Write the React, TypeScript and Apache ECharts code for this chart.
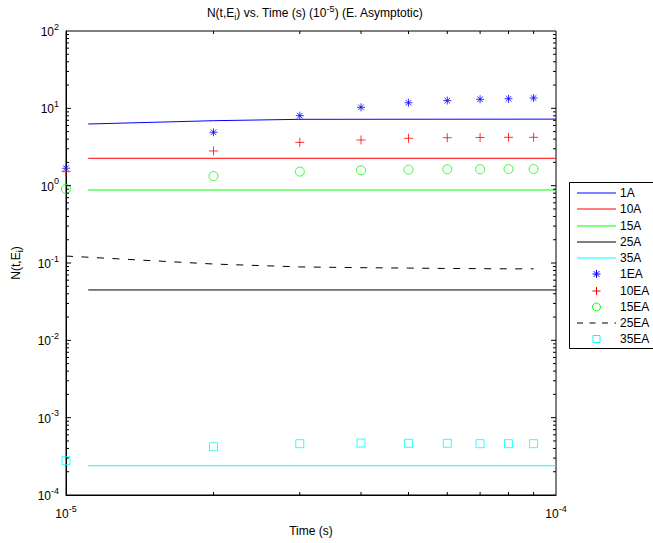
import React, { useEffect, useRef } from 'react';
import * as echarts from 'echarts';

// Sample times (s) for the asymptotic points
const times = [1e-5, 2e-5, 3e-5, 4e-5, 5e-5, 6e-5, 7e-5, 8e-5, 9e-5];

// Model curves (solid lines)
const modelTimes1A = [1.11e-5, 2e-5, 3e-5, 1e-4];
const model1A = [6.27, 6.92, 7.21, 7.25];
const modelSpan = [1.11e-5, 1e-4];
const model10A = [2.26, 2.26];
const model15A = [0.879, 0.879];
const model25A = [0.0448, 0.0448];
const model35A = [2.39e-4, 2.39e-4];

// Asymptotic estimates
const asym1EA = [1.68, 4.9, 8.04, 10.3, 11.8, 12.6, 13.1, 13.3, 13.6];
const asym10EA = [1.52, 2.81, 3.63, 3.9, 4.1, 4.17, 4.2, 4.22, 4.22];
const asym15EA = [0.905, 1.33, 1.52, 1.58, 1.61, 1.63, 1.63, 1.64, 1.64];
const asym25EA = [0.123, 0.097, 0.089, 0.087, 0.086, 0.085, 0.0845, 0.084, 0.084];
const asym35EA = [2.78e-4, 4.21e-4, 4.61e-4, 4.7e-4, 4.66e-4, 4.66e-4, 4.61e-4, 4.61e-4, 4.61e-4];

// Axis decades and minor tick multipliers
const xDecades = [-5];
const yDecades = [-4, -3, -2, -1, 0, 1];
const minorSteps = [2, 3, 4, 5, 6, 7, 8, 9];

const X_MIN = 1e-5;
const X_MAX = 1e-4;
const Y_MIN = 1e-4;
const Y_MAX = 1e2;

const FONT = '"Liberation Sans", Arial, Helvetica, sans-serif';

const BLUE = '#0000ff';
const RED = '#ff0000';
const GREEN = '#00ff00';
const BLACK = '#000000';
const CYAN = '#00ffff';

const ASTERISK = 'path://M0,5L10,5M5,0L5,10M1.5,1.5L8.5,8.5M8.5,1.5L1.5,8.5';
const PLUS = 'path://M0,5L10,5M5,0L5,10';

const pairs = (xs: number[], ys: number[]) => xs.map((x, i) => [x, ys[i]]);

const powRich = {
  b: { fontSize: 12, fontFamily: FONT, color: '#000', lineHeight: 14, verticalAlign: 'bottom' },
  e: { fontSize: 9, fontFamily: FONT, color: '#000', lineHeight: 10, verticalAlign: 'bottom', padding: [0, 0, 7, 0] },
};

const powLabel = (v: number) => `{b|10}{e|${Math.round(Math.log10(v))}}`;

function tickSeries(data: number[][], dx: number, dy: number) {
  return {
    type: 'custom',
    silent: true,
    clip: false,
    z: 10,
    data,
    renderItem: (_params: any, api: any) => {
      const p = api.coord([api.value(0), api.value(1)]);
      const len = api.value(2) ? 5 : 3;
      return {
        type: 'line',
        shape: { x1: p[0], y1: p[1], x2: p[0] + dx * len, y2: p[1] + dy * len },
        style: { stroke: '#000', lineWidth: 1 },
      };
    },
  };
}

type LegendEntry = { name: string; color: string; kind: 'line' | 'dash' | 'star' | 'plus' | 'circle' | 'square' };
const legendEntries: LegendEntry[] = [
  { name: '1A', color: BLUE, kind: 'line' },
  { name: '10A', color: RED, kind: 'line' },
  { name: '15A', color: GREEN, kind: 'line' },
  { name: '25A', color: BLACK, kind: 'line' },
  { name: '35A', color: CYAN, kind: 'line' },
  { name: '1EA', color: BLUE, kind: 'star' },
  { name: '10EA', color: RED, kind: 'plus' },
  { name: '15EA', color: GREEN, kind: 'circle' },
  { name: '25EA', color: BLACK, kind: 'dash' },
  { name: '35EA', color: CYAN, kind: 'square' },
];

function legendGraphic() {
  const x0 = 569;
  const y0 = 182;
  const rowH = 16.25;
  const firstY = 11;
  const children: any[] = [
    { type: 'rect', shape: { x: 0.5, y: 0.5, width: 120, height: 166 }, style: { fill: '#fff', stroke: '#000', lineWidth: 1 } },
  ];
  legendEntries.forEach((e, i) => {
    const cy = Math.round(firstY + i * rowH);
    const cx = 27.5;
    const s = 4;
    if (e.kind === 'line' || e.kind === 'dash') {
      children.push({
        type: 'line',
        shape: { x1: 8, y1: cy, x2: 47, y2: cy },
        style: { stroke: e.color, lineWidth: 1.2, lineDash: e.kind === 'dash' ? [6, 6.5] : null },
      });
    } else if (e.kind === 'star') {
      const d = s * 0.72;
      children.push(
        { type: 'line', shape: { x1: cx - s, y1: cy, x2: cx + s, y2: cy }, style: { stroke: e.color, lineWidth: 1 } },
        { type: 'line', shape: { x1: cx, y1: cy - s, x2: cx, y2: cy + s }, style: { stroke: e.color, lineWidth: 1 } },
        { type: 'line', shape: { x1: cx - d, y1: cy - d, x2: cx + d, y2: cy + d }, style: { stroke: e.color, lineWidth: 1 } },
        { type: 'line', shape: { x1: cx - d, y1: cy + d, x2: cx + d, y2: cy - d }, style: { stroke: e.color, lineWidth: 1 } },
      );
    } else if (e.kind === 'plus') {
      children.push(
        { type: 'line', shape: { x1: cx - s, y1: cy, x2: cx + s, y2: cy }, style: { stroke: e.color, lineWidth: 1 } },
        { type: 'line', shape: { x1: cx, y1: cy - s, x2: cx, y2: cy + s }, style: { stroke: e.color, lineWidth: 1 } },
      );
    } else if (e.kind === 'circle') {
      children.push({ type: 'circle', shape: { cx, cy, r: s }, style: { fill: 'none', stroke: e.color, lineWidth: 1 } });
    } else {
      children.push({ type: 'rect', shape: { x: cx - 3.5, y: cy - 3.5, width: 7, height: 7 }, style: { fill: 'none', stroke: e.color, lineWidth: 1 } });
    }
    children.push({
      type: 'text',
      x: 51,
      y: cy,
      style: { text: e.name, fill: '#000', font: `12px ${FONT}`, textVerticalAlign: 'middle', textAlign: 'left' },
    });
  });
  return { type: 'group', x: x0, y: y0, children };
}

export default function App() {
  const ref = useRef<HTMLDivElement>(null);

  useEffect(() => {
    if (!ref.current) return;
    const chart = echarts.init(ref.current, undefined, { renderer: 'svg' });

    const leftTicks: number[][] = [];
    const rightTicks: number[][] = [];
    yDecades.forEach((d) => {
      const base = Math.pow(10, d);
      if (d > yDecades[0]) {
        leftTicks.push([X_MIN, base, 1]);
        rightTicks.push([X_MAX, base, 1]);
      }
      minorSteps.forEach((k) => {
        leftTicks.push([X_MIN, k * base, 0]);
        rightTicks.push([X_MAX, k * base, 0]);
      });
    });
    const bottomTicks: number[][] = [];
    const topTicks: number[][] = [];
    xDecades.forEach((d) => {
      const base = Math.pow(10, d);
      minorSteps.forEach((k) => {
        bottomTicks.push([k * base, Y_MIN, 0]);
        topTicks.push([k * base, Y_MAX, 0]);
      });
    });

    const lineSeries = (name: string, data: number[][], color: string, dash?: number[]) => ({
      name,
      type: 'line',
      data,
      symbol: 'none',
      z: 3,
      lineStyle: { color, width: 1, type: dash ? dash : 'solid' },
      itemStyle: { color },
    });
    const pointSeries = (name: string, data: number[][], color: string, symbol: string, size: number) => ({
      name,
      type: 'scatter',
      data,
      symbol,
      symbolSize: size,
      z: 4,
      itemStyle: { color: 'transparent', borderColor: color, borderWidth: 1 },
    });

    const titleRich = {
      n: { fontSize: 12, fontWeight: 'normal', fontFamily: FONT, color: '#000', lineHeight: 16, verticalAlign: 'middle' },
      sub: { fontSize: 9, fontWeight: 'normal', fontFamily: FONT, color: '#000', lineHeight: 9, verticalAlign: 'bottom', padding: [7, 0, 0, 0] },
      sup: { fontSize: 9, fontWeight: 'normal', fontFamily: FONT, color: '#000', lineHeight: 9, verticalAlign: 'bottom', padding: [0, 0, 8, 0] },
    };

    chart.setOption({
      animation: false,
      backgroundColor: '#fff',
      textStyle: { fontFamily: FONT },
      title: {
        text: '{n|N(t,E}{sub|i}{n|) vs. Time (s) (10}{sup|-5}{n|) (E. Asymptotic)}',
        left: 310,
        top: 0,
        textAlign: 'center',
        textStyle: { fontWeight: 'normal', rich: titleRich },
      },
      grid: {
        left: 65,
        right: 97,
        top: 31,
        bottom: 48,
        show: true,
        borderColor: '#000',
        borderWidth: 1,
        backgroundColor: 'transparent',
      },
      xAxis: {
        type: 'log',
        logBase: 10,
        min: X_MIN,
        max: X_MAX,
        interval: 1,
        name: 'Time (s)',
        nameLocation: 'middle',
        nameGap: 26,
        nameTextStyle: { fontSize: 12, color: '#000', fontFamily: FONT },
        axisLine: { show: true, lineStyle: { color: '#000', width: 1 } },
        axisTick: { show: false },
        splitLine: { show: false },
        minorTick: { show: false },
        axisLabel: { formatter: powLabel, rich: powRich, margin: 11, color: '#000' },
      },
      yAxis: {
        type: 'log',
        logBase: 10,
        min: Y_MIN,
        max: Y_MAX,
        interval: 1,
        name: '{n|N(t,E}{sub|i}{n|)}',
        nameLocation: 'middle',
        nameRotate: 90,
        nameGap: 42,
        nameTextStyle: { rich: titleRich },
        axisLine: { show: true, lineStyle: { color: '#000', width: 1 } },
        axisTick: { show: false },
        splitLine: { show: false },
        minorTick: { show: false },
        axisLabel: { formatter: powLabel, rich: powRich, margin: 7, color: '#000' },
      },
      series: [
        lineSeries('1A', pairs(modelTimes1A, model1A), BLUE),
        lineSeries('10A', pairs(modelSpan, model10A), RED),
        lineSeries('15A', pairs(modelSpan, model15A), GREEN),
        lineSeries('25A', pairs(modelSpan, model25A), BLACK),
        lineSeries('35A', pairs(modelSpan, model35A), CYAN),
        pointSeries('1EA', pairs(times, asym1EA), BLUE, ASTERISK, 8),
        pointSeries('10EA', pairs(times, asym10EA), RED, PLUS, 9),
        pointSeries('15EA', pairs(times, asym15EA), GREEN, 'circle', 9),
        lineSeries('25EA', pairs(times, asym25EA), BLACK, [7, 8.5]),
        pointSeries('35EA', pairs(times, asym35EA), CYAN, 'rect', 8),
        tickSeries(leftTicks, 1, 0),
        tickSeries(rightTicks, -1, 0),
        tickSeries(bottomTicks, 0, -1),
        tickSeries(topTicks, 0, 1),
      ],
      graphic: [legendGraphic()],
    });

    return () => chart.dispose();
  }, []);

  return <div ref={ref} style={{ width: 653, height: 543, position: 'absolute', left: 0, top: 0 }} />;
}
